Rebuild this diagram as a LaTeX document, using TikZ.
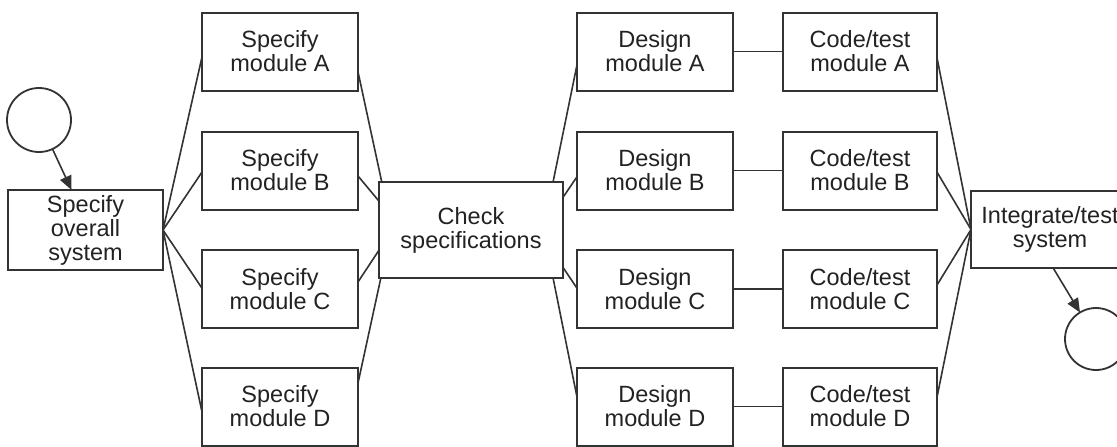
\documentclass[tikz,border=0pt]{standalone}
\usepackage{fontspec}
\setmainfont{Liberation Sans}
\usetikzlibrary{arrows.meta,calc}
\definecolor{lc}{HTML}{333333}
\definecolor{tc}{HTML}{222222}
\begin{document}
\begin{tikzpicture}[x=1pt,y=-1pt,
  box/.style={draw=lc, line width=2pt, rectangle, inner sep=0pt, outer sep=0pt,
    align=center, text=tc, font=\fontsize{23.5}{24}\selectfont},
  smallbox/.style={box, minimum width=156pt, minimum height=78pt},
  codebox/.style={box, minimum width=154pt, minimum height=78pt},
  endpt/.style={circle, draw=lc, line width=1.8pt, inner sep=0pt, outer sep=0pt},
  conn/.style={draw=lc, line width=1.6pt},
  arr/.style={conn, -{Triangle[length=14pt,width=12pt]}}]
\useasboundingbox (0,0) rectangle (1117,447);
\fill[white] (0,0) rectangle (1117,447);

\node[endpt, minimum size=64pt] (st) at (39,120) {};
\node[box, minimum width=155pt, minimum height=80pt] (ov) at (85.5,230) {Specify\\overall\\system};

\node[smallbox] (sa) at (280,51.5) {Specify\\module A};
\node[smallbox] (sb) at (280,170.5) {Specify\\module B};
\node[smallbox] (sc) at (280,289) {Specify\\module C};
\node[smallbox] (sd) at (280,406.5) {Specify\\module D};

\node[box, minimum width=184pt, minimum height=96pt] (ck) at (471,230) {Check\\specifications};

\node[smallbox] (da) at (655,51.5) {Design\\module A};
\node[smallbox] (db) at (655,170.5) {Design\\module B};
\node[smallbox] (dc) at (655,289) {Design\\module C};
\node[smallbox] (dd) at (655,406.5) {Design\\module D};

\node[codebox] (ca) at (860,51.5) {Code/test\\module A};
\node[codebox] (cb) at (860,170.5) {Code/test\\module B};
\node[codebox] (cc) at (860,289) {Code/test\\module C};
\node[codebox] (cd) at (860,406.5) {Code/test\\module D};

\node[box, minimum width=158pt, minimum height=77pt] (ig) at (1050,229.5) {Integrate/test\\system};
\node[endpt, minimum size=62pt] (en) at (1096,339) {};

\draw[arr] (st) -- ($(ov.north west)!0.41!(ov.north east)$);
\draw[arr] ($(ig.south west)!0.52!(ig.south east)$) -- (en);

\draw[conn] (ov.east) -- ($(sa.north west)!0.57!(sa.south west)$);
\draw[conn] (ov.east) -- ($(sb.north west)!0.52!(sb.south west)$);
\draw[conn] (ov.east) -- ($(sc.north west)!0.49!(sc.south west)$);
\draw[conn] (ov.east) -- ($(sd.north west)!0.57!(sd.south west)$);

\draw[conn] ($(sa.north east)!0.76!(sa.south east)$) -- ($(ck.north west)!0.015!(ck.north east)$);
\draw[conn] ($(sb.north east)!0.57!(sb.south east)$) -- ($(ck.north west)!0.2!(ck.south west)$);
\draw[conn] ($(sc.north east)!0.41!(sc.south east)$) -- ($(ck.north west)!0.71!(ck.south west)$);
\draw[conn] ($(sd.north east)!0.2!(sd.south east)$) -- ($(ck.south west)!0.01!(ck.south east)$);

\draw[conn] ($(ck.north west)!0.946!(ck.north east)$) -- ($(da.north west)!0.67!(da.south west)$);
\draw[conn] ($(ck.north east)!0.16!(ck.south east)$) -- ($(db.north west)!0.58!(db.south west)$);
\draw[conn] ($(ck.north east)!0.89!(ck.south east)$) -- ($(dc.north west)!0.49!(dc.south west)$);
\draw[conn] ($(ck.south west)!0.946!(ck.south east)$) -- ($(dd.north west)!0.38!(dd.south west)$);

\draw[conn] (da.east) -- (ca.west);
\draw[conn] (db.east) -- (cb.west);
\draw[conn] (dc.east) -- (cc.west);
\draw[conn] (dd.east) -- (cd.west);

\draw[conn] ($(ca.north east)!0.58!(ca.south east)$) -- (ig.west);
\draw[conn] ($(cb.north east)!0.52!(cb.south east)$) -- (ig.west);
\draw[conn] ($(cc.north east)!0.45!(cc.south east)$) -- (ig.west);
\draw[conn] ($(cd.north east)!0.38!(cd.south east)$) -- (ig.west);
\end{tikzpicture}
\end{document}
